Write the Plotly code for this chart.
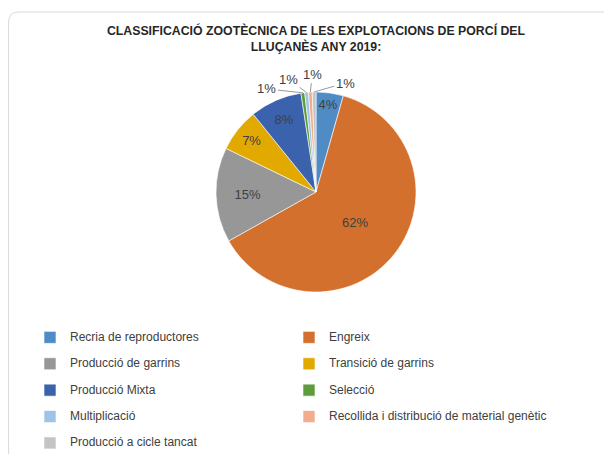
import math
import plotly.graph_objects as go

categories = [
    "Recria de reproductores",
    "Engreix",
    "Producció de garrins",
    "Transició de garrins",
    "Producció Mixta",
    "Selecció",
    "Multiplicació",
    "Recollida i distribució de material genètic",
    "Producció a cicle tancat",
]
values = [4.4, 62.4, 15.3, 7.0, 8.4, 0.6, 0.6, 0.6, 0.6]
colors = ["#4F8CC6", "#D4702D", "#979797", "#E2AA00", "#3B63AD",
          "#5E9C3B", "#9DC3E6", "#F2AD8E", "#C4C4C4"]

title_text = "CLASSIFICACIÓ ZOOTÈCNICA DE LES EXPLOTACIONS DE PORCÍ DEL<br>LLUÇANÈS ANY 2019:"

# the page body has an 8px margin, so the figure is sized to fill the rest of the window
W, H = 604, 446
font_family = "Liberation Sans, Arial, sans-serif"

# pie placement (figure pixels)
PCX, PCY, PR = 308, 184, 100
# small slices get outside labels with leader lines; label offsets in px (style)
small_offsets = {5: (-36, -4), 6: (-18, -13), 7: (2, -18), 8: (31, -9)}

legend_labels = [f"<span style='font-size:12px'>{c}</span><br> " for c in categories]
pie_text = ["%{percent:.0%}" if i not in small_offsets else "" for i in range(len(values))]

fig = go.Figure(go.Pie(
    labels=legend_labels,
    values=values,
    sort=False,
    direction="clockwise",
    rotation=0,
    marker=dict(colors=colors, line=dict(color="white", width=0.6)),
    textposition="inside",
    texttemplate=pie_text,
    textfont=dict(family=font_family, size=13, color="#404040"),
    insidetextorientation="horizontal",
    domain=dict(x=[(PCX - PR) / W, (PCX + PR) / W],
                y=[1 - (PCY + PR) / H, 1 - (PCY - PR) / H]),
    hoverinfo="label+percent",
))

# outside labels for the tiny slices, anchored at each slice's mid angle (from data)
total = sum(values)
annotations = []
cum = 0.0
for i, v in enumerate(values):
    mid = (cum + v / 2) / total * 2 * math.pi
    cum += v
    if i in small_offsets:
        ax, ay = small_offsets[i]
        tip_x = (PCX + PR * math.sin(mid)) / W
        tip_y = 1 - (PCY - PR * math.cos(mid)) / H
        annotations.append(dict(
            x=tip_x, y=tip_y, xref="paper", yref="paper",
            ax=ax, ay=ay, axref="pixel", ayref="pixel",
            text=f"{round(v / total * 100)}%",
            showarrow=True, arrowhead=0, arrowwidth=0.8, arrowcolor="#7F7F7F",
            standoff=0, startstandoff=0,
            font=dict(family=font_family, size=13, color="#404040"),
        ))

# rounded chart frame
x0, y0 = 0.6 / W, 1 - 4 / H
x1, y1 = 1.05, -0.05
rx, ry = 10 / W, 10 / H
path = (f"M {x0},{y1} L {x0},{y0 - ry} Q {x0},{y0} {x0 + rx},{y0} "
        f"L {x1},{y0}")

fig.update_layout(
    width=W, height=H,
    margin=dict(l=0, r=0, t=0, b=0, autoexpand=False),
    paper_bgcolor="white",
    title=dict(
        text=title_text,
        x=308 / W, xanchor="center",
        y=1 - 27 / H, yanchor="top", yref="container",
        font=dict(family=font_family, size=12.3, color="#262626", weight="bold"),
    ),
    showlegend=True,
    legend=dict(
        orientation="h",
        x=22 / W, xanchor="left",
        y=1 - 317 / H, yanchor="top",
        entrywidth=214, entrywidthmode="pixels",
        font=dict(family=font_family, size=9, color="#404040"),
        traceorder="normal",
        valign="top",
    ),
    annotations=annotations,
    shapes=[dict(type="path", path=path, xref="paper", yref="paper",
                 line=dict(color="#D9D9D9", width=1))],
)

fig.write_html("out.html")
